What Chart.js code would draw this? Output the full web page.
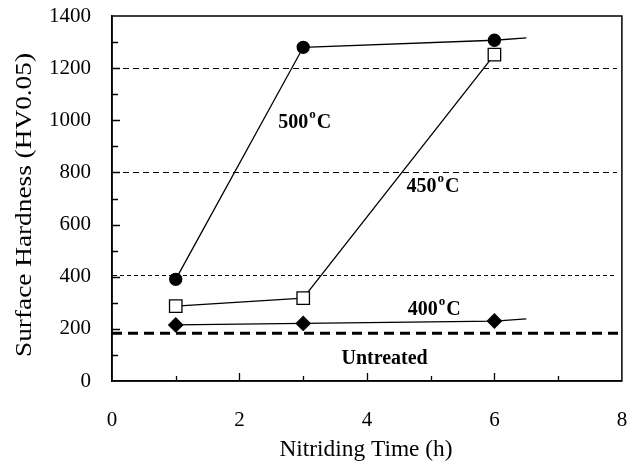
<!DOCTYPE html>
<html lang="en">
<head>
<meta charset="UTF-8">
<title>Surface Hardness vs Nitriding Time</title>
<script src="https://cdn.jsdelivr.net/npm/chart.js"></script>
<style>
  html, body { margin: 0; padding: 0; background: #fff; }
</style>
</head>
<body>
<canvas id="hardnessChart" width="632" height="472"></canvas>
<script>
// nitriding time (h) and surface hardness (HV0.05) per temperature
const time500 = [1, 3, 6, 6.5];
const hard500 = [390, 1280, 1307, 1316];
const time450 = [1, 3, 6];
const hard450 = [287, 318, 1252];
const time400 = [1, 3, 6, 6.5];
const hard400 = [215, 221, 230, 238];
const untreatedTime = [0, 8];
const untreatedHard = [183, 183];
const refLines = [405, 800, 1200];
const xTickLabels = [0, 2, 4, 6, 8];
const yTickLabels = [0, 200, 400, 600, 800, 1000, 1200, 1400];

const FONT = '"Liberation Serif", "Times New Roman", serif';

function toPoints(xs, ys) {
  return xs.map((x, i) => ({ x: x, y: ys[i] }));
}

// dashed horizontal guide lines
const guideLines = {
  id: 'guideLines',
  beforeDatasetsDraw(chart) {
    const { ctx, chartArea, scales } = chart;
    ctx.save();
    ctx.strokeStyle = '#000';
    ctx.lineWidth = 1;
    refLines.forEach(v => {
      const y = Math.round(scales.y.getPixelForValue(v)) + 0.5;
      ctx.setLineDash(v < 600 ? [4, 3] : [6, 4]);
      ctx.beginPath();
      ctx.moveTo(chartArea.left + 1, y);
      ctx.lineTo(chartArea.right - 5, y);
      ctx.stroke();
    });
    ctx.restore();
  }
};

// frame, inside tick marks, titles and curve labels
const decorations = {
  id: 'decorations',
  afterDraw(chart) {
    const { ctx, chartArea, scales } = chart;
    const { left, right, top, bottom } = chartArea;
    ctx.save();
    ctx.strokeStyle = '#000';
    ctx.lineWidth = 1.5;
    ctx.strokeRect(left, top, right - left, bottom - top);

    ctx.lineWidth = 1.3;
    ctx.beginPath();
    for (let v = 1; v < 8; v++) {
      const x = Math.round(scales.x.getPixelForValue(v)) + 0.5;
      const len = v % 2 === 0 ? 8 : 5;
      ctx.moveTo(x, bottom);
      ctx.lineTo(x, bottom - len);
    }
    for (let v = 100; v < 1400; v += 100) {
      const y = Math.round(scales.y.getPixelForValue(v)) + 0.5;
      const len = v % 200 === 0 ? 8 : 6;
      ctx.moveTo(left, y);
      ctx.lineTo(left + len, y);
    }
    ctx.stroke();

    // axis titles
    ctx.fillStyle = '#000';
    ctx.font = '23px ' + FONT;
    ctx.textAlign = 'center';
    ctx.textBaseline = 'middle';
    const yTitle = 'Surface Hardness (HV0.05)';
    const wy = ctx.measureText(yTitle).width;
    ctx.save();
    ctx.translate(25, 205);
    ctx.rotate(-Math.PI / 2);
    ctx.scale(304 / wy, 1);
    ctx.fillText(yTitle, 0, 0);
    ctx.restore();

    const xTitle = 'Nitriding Time (h)';
    const wx = ctx.measureText(xTitle).width;
    ctx.save();
    ctx.translate(366, 450);
    ctx.scale(173 / wx, 1);
    ctx.fillText(xTitle, 0, 0);
    ctx.restore();

    // curve labels
    ctx.textAlign = 'left';
    ctx.textBaseline = 'alphabetic';
    const px = v => scales.x.getPixelForValue(v);
    const py = v => scales.y.getPixelForValue(v);
    function tempLabel(num, x, y) {
      ctx.font = 'bold 20px ' + FONT;
      ctx.fillText(num, x, y);
      let w = ctx.measureText(num).width + 1;
      ctx.font = 'bold 13px ' + FONT;
      ctx.fillText('o', x + w, y - 10);
      w += ctx.measureText('o').width + 1;
      ctx.font = 'bold 20px ' + FONT;
      ctx.fillText('C', x + w, y);
    }
    tempLabel('500', px(2.61), py(970));
    tempLabel('450', px(4.62), py(725));
    tempLabel('400', px(4.64), py(253));
    ctx.font = 'bold 20px ' + FONT;
    ctx.fillText('Untreated', px(3.6), py(65));
    ctx.restore();
  }
};

// keep the plot box fixed; tick labels may overhang the layout padding
function fixBox(scale, key, size) {
  scale[key] = size;
  scale.paddingTop = 0;
  scale.paddingBottom = 0;
  scale.paddingLeft = 0;
  scale.paddingRight = 0;
}

const ctx = document.getElementById('hardnessChart').getContext('2d');
new Chart(ctx, {
  type: 'scatter',
  data: {
    datasets: [
      {
        label: '500°C',
        data: toPoints(time500, hard500),
        showLine: true,
        borderColor: '#000',
        borderWidth: 1.3,
        pointStyle: 'circle',
        pointRadius: [6, 6, 6, 0],
        pointBackgroundColor: '#000',
        pointBorderColor: '#000'
      },
      {
        label: '450°C',
        data: toPoints(time450, hard450),
        showLine: true,
        borderColor: '#000',
        borderWidth: 1.3,
        pointStyle: 'rect',
        pointRadius: 8.8,
        pointBackgroundColor: '#fff',
        pointBorderColor: '#000',
        pointBorderWidth: 1.3
      },
      {
        label: '400°C',
        data: toPoints(time400, hard400),
        showLine: true,
        borderColor: '#000',
        borderWidth: 1.3,
        pointStyle: 'rectRot',
        pointRadius: [7, 7, 7, 0],
        pointBackgroundColor: '#000',
        pointBorderColor: '#000'
      },
      {
        label: 'Untreated',
        data: toPoints(untreatedTime, untreatedHard),
        showLine: true,
        borderColor: '#000',
        borderWidth: 3,
        borderDash: [10, 6],
        pointRadius: 0
      }
    ]
  },
  options: {
    responsive: false,
    animation: false,
    devicePixelRatio: 1,
    layout: { padding: { left: 0, right: 6, top: 16, bottom: 0 } },
    plugins: {
      legend: { display: false },
      tooltip: { enabled: false }
    },
    scales: {
      x: {
        type: 'linear',
        min: 0,
        max: 8,
        ticks: {
          stepSize: 2,
          color: '#000',
          padding: 27,
          font: { family: FONT, size: 21 },
          callback: v => xTickLabels.includes(v) ? v : ''
        },
        grid: { display: false, drawTicks: false },
        border: { display: true, color: '#000', width: 1.5 },
        afterFit(scale) { fixBox(scale, 'height', 91); }
      },
      y: {
        min: 0,
        max: 1400,
        ticks: {
          stepSize: 200,
          color: '#000',
          padding: 21,
          font: { family: FONT, size: 21 },
          callback: v => yTickLabels.includes(v) ? v : ''
        },
        grid: { display: false, drawTicks: false },
        border: { display: true, color: '#000', width: 1.5 },
        afterFit(scale) { fixBox(scale, 'width', 112); }
      }
    }
  },
  plugins: [guideLines, decorations]
});
</script>
</body>
</html>
